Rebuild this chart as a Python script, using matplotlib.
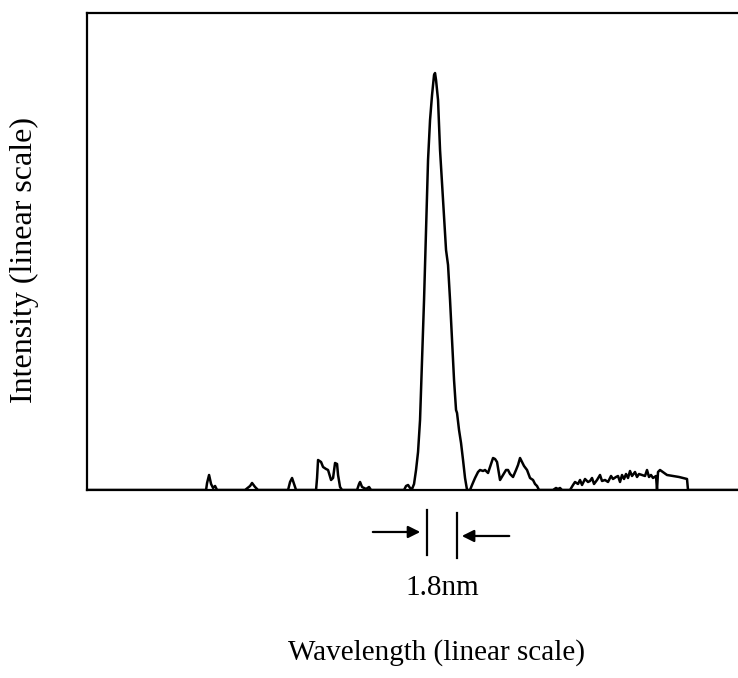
import matplotlib.pyplot as plt

# Spectrum trace: (wavelength, intensity), arbitrary units
trace = [
    (0, 0), (119, 0), (120, 7), (122, 15), (124, 6), (126, 2), (128, 4), (130, 0),
    (158, 0), (163, 4), (165, 7), (168, 3), (171, 0),
    (201, 0), (203, 8), (205, 12), (207, 6), (209, 0),
    (229, 0), (230, 12), (231, 30), (234, 28), (236, 23), (239, 21), (241, 20),
    (244, 10), (246, 12), (248, 27), (250, 26), (251, 15), (253, 3), (255, 0),
    (270, 0), (272, 6), (273, 8), (275, 3), (279, 1), (282, 3), (284, 0),
    (317, 0), (319, 4), (321, 5), (323, 2), (325, 1), (327, 6),
    # main peak
    (329, 20), (331, 38), (333, 70), (335, 130), (337, 190), (339, 260),
    (341, 330), (343, 370), (345, 395), (347, 415), (348, 417), (349, 410),
    (351, 390), (353, 340), (356, 290), (359, 240), (361, 225), (363, 190),
    (365, 150), (367, 110), (369, 80), (370, 77), (372, 60), (374, 47),
    (376, 30), (378, 12), (380, 0),
    (383, 0), (385, 5), (388, 12), (391, 18), (393, 20), (396, 19), (398, 20),
    (401, 17), (403, 23), (406, 32), (408, 31), (410, 28), (413, 10), (416, 15),
    (419, 20), (421, 20), (423, 16), (426, 13), (429, 20), (431, 25), (433, 32),
    (435, 28), (437, 24), (440, 20), (443, 12), (446, 10), (448, 6), (450, 4),
    (452, 0),
    (466, 0), (469, 2), (471, 1), (473, 2), (475, 0),
    (483, 0), (486, 5), (488, 8), (491, 6), (493, 10), (495, 5), (498, 11),
    (501, 8), (503, 9), (505, 12), (507, 6), (510, 10), (513, 15), (515, 9),
    (518, 10), (521, 8), (524, 14), (526, 11), (529, 13), (531, 14), (533, 8),
    (535, 15), (537, 11), (539, 16), (541, 12), (543, 19), (545, 14), (548, 18),
    (550, 13), (552, 16), (555, 15), (558, 14), (560, 20), (562, 13), (564, 15),
    (566, 12), (569, 14), (570, 0), (571, 18), (573, 20), (580, 15), (592, 13),
    (600, 11), (601, 0), (651, 0),
]
wavelength = [p[0] for p in trace]
intensity = [p[1] for p in trace]

# FWHM markers (same units as wavelength)
fwhm_left = 340
fwhm_right = 370
fwhm_label = "1.8nm"

plt.rcParams['font.family'] = ['Liberation Serif', 'DejaVu Serif']

fig = plt.figure(figsize=(7.38, 6.78), dpi=100)
ax = fig.add_axes([0.118, 0.2773, 0.882, 0.7035])

ax.plot(wavelength, intensity, color="black", lw=1.8)
ax.set_xlim(0, 651)
ax.set_ylim(0, 477)
ax.set_xticks([])
ax.set_yticks([])
ax.spines["right"].set_visible(False)
for s in ["left", "bottom", "top"]:
    ax.spines[s].set_linewidth(1.6)

# FWHM marker below the axis
ax.plot([fwhm_left, fwhm_left], [-20, -65], color="black", lw=1.6, clip_on=False)
ax.plot([fwhm_right, fwhm_right], [-23, -68], color="black", lw=1.6, clip_on=False)
ax.annotate("", xy=(fwhm_left - 4, -42), xytext=(fwhm_left - 57, -42),
            arrowprops=dict(arrowstyle="-|>", color="black", lw=1.6,
                            mutation_scale=18), annotation_clip=False)
ax.annotate("", xy=(fwhm_right + 2, -46), xytext=(fwhm_right + 55, -46),
            arrowprops=dict(arrowstyle="-|>", color="black", lw=1.6,
                            mutation_scale=18), annotation_clip=False)
ax.text((fwhm_left + fwhm_right) / 2, -98, fwhm_label, ha="center", va="center",
        fontsize=21, clip_on=False)

fig.text(0.591, 0.038, "Wavelength (linear scale)", ha="center", va="center", fontsize=21)
fig.text(0.033, 0.617, "Intensity (linear scale)", ha="center", va="center",
         rotation=90, fontsize=23)

fig.savefig("out.png", dpi=100)
